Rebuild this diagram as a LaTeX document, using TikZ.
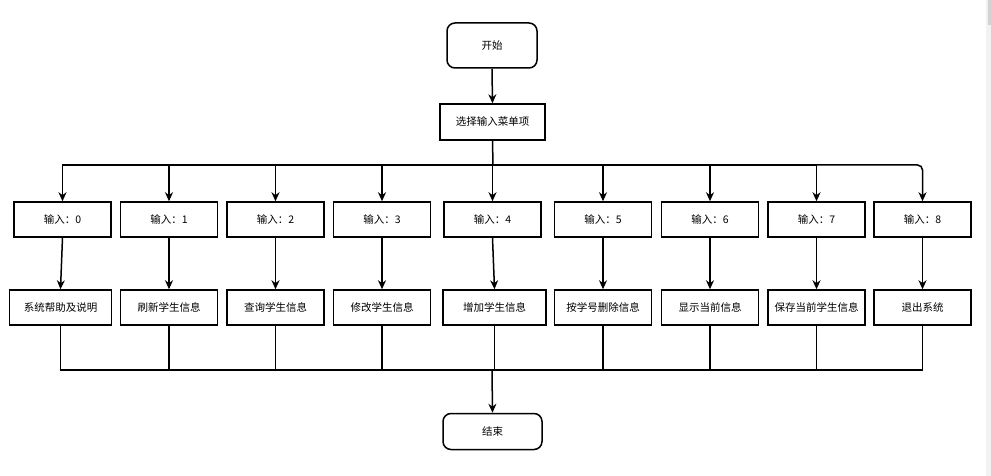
\documentclass[tikz,border=0pt]{standalone}
\usepackage{fontspec}
\setmainfont{Liberation Sans}
\newfontfamily\cjk{Noto Sans CJK SC}
\usetikzlibrary{arrows.meta,calc}
\begin{document}
\begin{tikzpicture}[x=1pt,y=-1pt,
  box/.style={draw,line width=1.5pt,minimum height=35pt,inner sep=1pt,font=\cjk\fontsize{10.5}{12}\selectfont,fill=white},
  inbox/.style={box,minimum width=97pt},
  outbox/.style={box,minimum width=97pt},
  term/.style={box,rounded corners=8pt},
  ln/.style={line width=1.5pt},
  arr/.style={ln,-{Stealth[length=9pt,width=8pt]}}]
\useasboundingbox (0,0) rectangle (991,476);
\fill[white] (0,0) rectangle (991,476);
\fill[gray!10] (986,0) rectangle (991,476);
\fill[gray!35] (988,0) rectangle (991,25);
% terminals and menu
\node[term,minimum width=90pt,minimum height=45pt] (start) at (492,45.5) {开始};
\node[box,minimum width=105pt,minimum height=36pt] (menu) at (492.5,122) {选择输入菜单项};
\node[term,minimum width=99pt,minimum height=36pt] (stop) at (492.5,431.5) {结束};
\draw[arr] (start.south) -- (menu.north);
% inputs
\foreach \i/\x in {0/62.5,1/169,2/275.5,3/382,4/492.5,5/603,6/710,7/816.5,8/922.5}{
  \node[inbox] (in\i) at (\x,219.5) {输入：\i};
}
% outputs
\node[outbox,minimum width=102pt] (out0) at (60.5,307.5) {系统帮助及说明};
\node[outbox] (out1) at (169,307.5) {刷新学生信息};
\node[outbox] (out2) at (275.5,307.5) {查询学生信息};
\node[outbox] (out3) at (382,307.5) {修改学生信息};
\node[outbox,minimum width=103pt] (out4) at (494.5,307.5) {增加学生信息};
\node[outbox] (out5) at (603,307.5) {按学号删除信息};
\node[outbox] (out6) at (710,307.5) {显示当前信息};
\node[outbox] (out7) at (816.5,307.5) {保存当前学生信息};
\node[outbox] (out8) at (922.5,307.5) {退出系统};
% bus from menu
\coordinate (bus) at (493,165);
\draw[ln] (menu.south) -- (bus);
\foreach \i in {0,...,7}{
  \draw[arr] (bus) -| (in\i.north);
}
\draw[arr,rounded corners=5pt] (bus) -| (in8.north);
\foreach \i in {0,...,8}{
  \draw[arr] (in\i.south) -- (out\i.north);
}
% bottom bus
\coordinate (jn) at (492,370);
\foreach \i in {0,...,8}{
  \draw[ln] (out\i.south) |- (jn);
}
\draw[arr] (jn) -- (stop.north);
\end{tikzpicture}
\end{document}
